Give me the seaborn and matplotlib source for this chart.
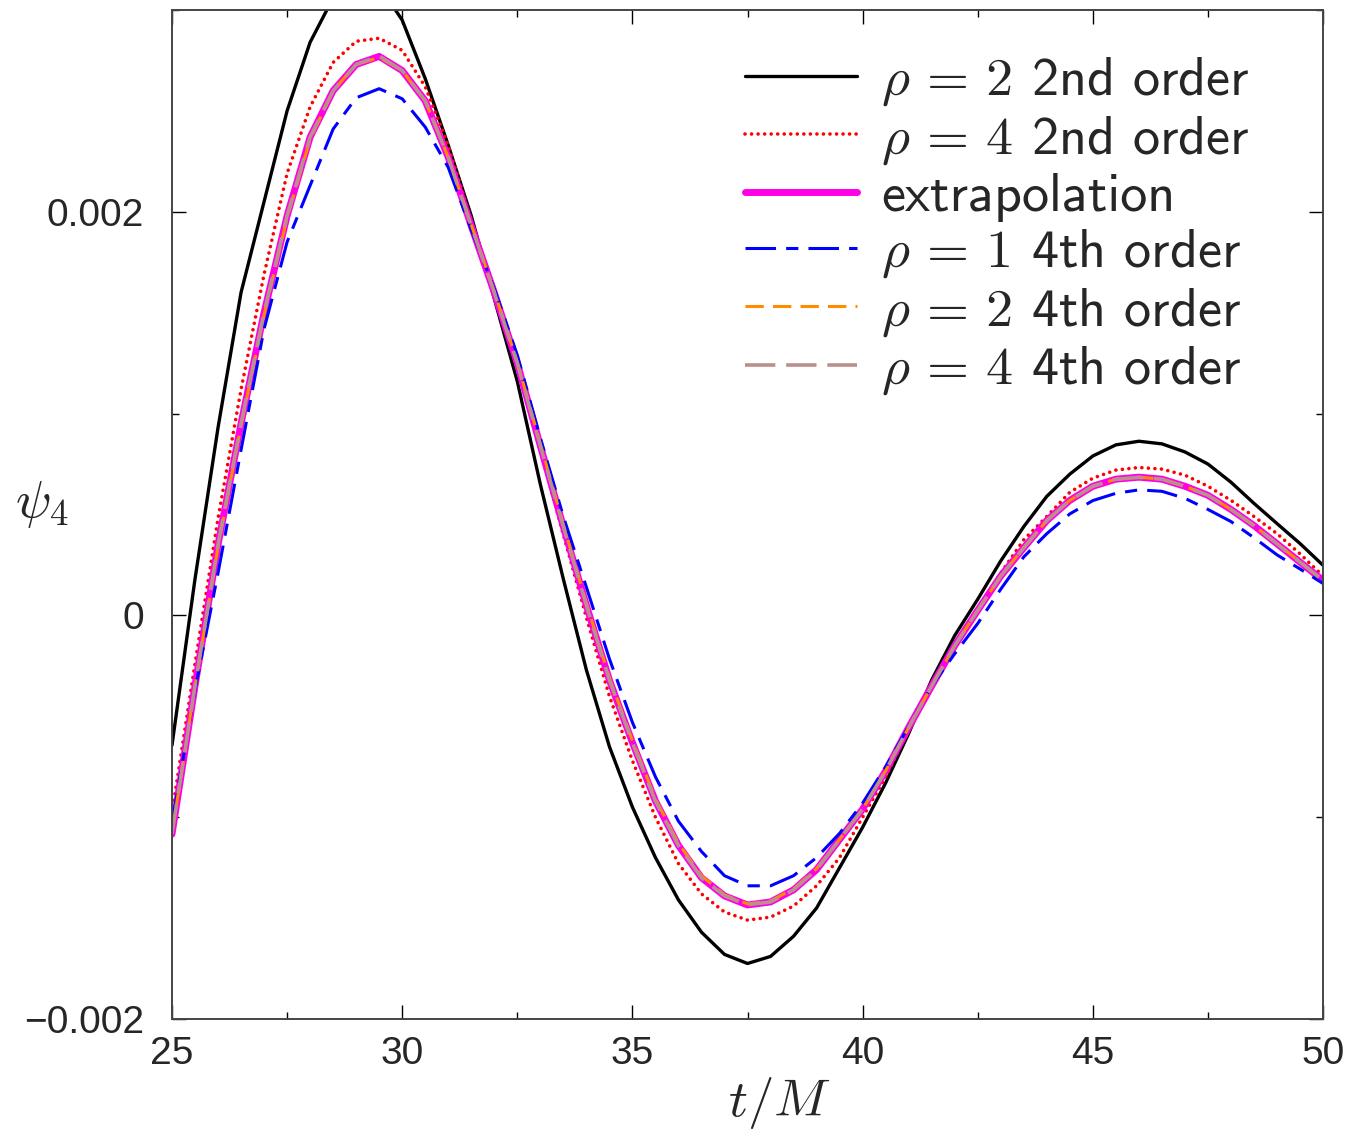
import numpy as np
import matplotlib
matplotlib.use("Agg")
import matplotlib.pyplot as plt
from matplotlib.ticker import MultipleLocator, FuncFormatter
import seaborn as sns

# Sample times t/M
t = np.linspace(25.0, 50.0, 51)

# psi_4 in units of 1e-3
psi_rho2_o2 = [-0.644, 0.18, 0.93, 1.60, 2.05, 2.50, 2.84, 3.06, 3.16, 3.12,
               2.95, 2.66, 2.33, 1.98, 1.57, 1.16, 0.65, 0.18, -0.27, -0.65,
               -0.95, -1.20, -1.41, -1.57, -1.68, -1.725, -1.69, -1.59, -1.45, -1.25,
               -1.05, -0.83, -0.585, -0.32, -0.10, 0.08, 0.27, 0.44, 0.59, 0.70,
               0.79, 0.845, 0.863, 0.85, 0.81, 0.75, 0.66, 0.555, 0.455, 0.356, 0.248]
psi_rho4_o2 = [-0.98, -0.24, 0.48, 1.12, 1.69, 2.19, 2.52, 2.74, 2.845, 2.86,
               2.80, 2.62, 2.33, 1.96, 1.60, 1.23, 0.82, 0.40, -0.01, -0.40,
               -0.72, -1.00, -1.23, -1.38, -1.47, -1.51, -1.495, -1.44, -1.34, -1.20,
               -1.00, -0.80, -0.57, -0.355, -0.15, 0.03, 0.21, 0.375, 0.49, 0.61,
               0.68, 0.72, 0.733, 0.725, 0.695, 0.64, 0.57, 0.49, 0.405, 0.305, 0.195]
psi_extrap = [-1.084, -0.35, 0.35, 0.95, 1.50, 1.98, 2.37, 2.60, 2.73, 2.77,
              2.70, 2.55, 2.27, 1.93, 1.60, 1.25, 0.84, 0.44, 0.05, -0.32,
              -0.63, -0.92, -1.14, -1.30, -1.39, -1.435, -1.42, -1.36, -1.26, -1.11,
              -0.96, -0.77, -0.555, -0.35, -0.15, 0.025, 0.195, 0.335, 0.47, 0.57,
              0.64, 0.675, 0.685, 0.675, 0.64, 0.595, 0.525, 0.445, 0.355, 0.264, 0.173]
psi_rho1_o4 = [-1.03, -0.37, 0.21, 0.82, 1.42, 1.85, 2.13, 2.41, 2.565, 2.61,
               2.56, 2.42, 2.22, 1.91, 1.62, 1.29, 0.88, 0.49, 0.14, -0.215,
               -0.53, -0.80, -1.02, -1.17, -1.29, -1.34, -1.34, -1.29, -1.20, -1.08,
               -0.93, -0.75, -0.55, -0.35, -0.19, -0.04, 0.13, 0.29, 0.405, 0.503,
               0.569, 0.605, 0.622, 0.615, 0.58, 0.525, 0.465, 0.385, 0.30, 0.23, 0.158]
psi_rho2_o4 = [-1.08, -0.35, 0.34, 0.94, 1.49, 1.97, 2.36, 2.60, 2.73, 2.765,
               2.70, 2.55, 2.27, 1.935, 1.605, 1.255, 0.85, 0.45, 0.06, -0.31,
               -0.62, -0.91, -1.13, -1.29, -1.385, -1.43, -1.415, -1.355, -1.255, -1.11,
               -0.96, -0.77, -0.555, -0.35, -0.15, 0.025, 0.195, 0.335, 0.47, 0.57,
               0.64, 0.675, 0.685, 0.675, 0.64, 0.595, 0.525, 0.445, 0.355, 0.265, 0.175]
psi_rho4_o4 = [-1.083, -0.35, 0.35, 0.95, 1.50, 1.98, 2.37, 2.60, 2.73, 2.772,
               2.70, 2.55, 2.27, 1.93, 1.60, 1.25, 0.84, 0.44, 0.05, -0.32,
               -0.63, -0.92, -1.14, -1.30, -1.39, -1.434, -1.42, -1.36, -1.26, -1.11,
               -0.96, -0.77, -0.555, -0.35, -0.15, 0.025, 0.195, 0.335, 0.47, 0.57,
               0.64, 0.675, 0.684, 0.675, 0.64, 0.595, 0.525, 0.445, 0.355, 0.264, 0.173]

labels = [r"$\rho\,=\,2$ 2nd order", r"$\rho\,=\,4$ 2nd order", "extrapolation",
          r"$\rho\,=\,1$ 4th order", r"$\rho\,=\,2$ 4th order", r"$\rho\,=\,4$ 4th order"]

sns.set_style("ticks")
plt.rcParams["font.family"] = ["Liberation Sans", "DejaVu Sans"]
plt.rcParams["mathtext.fontset"] = "cm"

fig = plt.figure(figsize=(13.52, 11.36), dpi=100)
ax = fig.add_axes([0.1272, 0.1030, 0.8514, 0.8882])

styles = [
    dict(color="black", lw=2.4, linestyle="-"),
    dict(color="#ff0000", lw=2.6, linestyle=(0, (0.01, 1.8)), dash_capstyle="round"),
    dict(color="#ff00e6", lw=5.0, linestyle="-", solid_capstyle="round"),
    dict(color="#0000ff", lw=2.2, linestyle=(0, (10, 3.3, 4, 3.3))),
    dict(color="#ff8c00", lw=2.2, linestyle=(0, (6, 3))),
    dict(color="#bc8f8f", lw=2.6, linestyle=(0, (8.4, 3))),
]
series = [psi_rho2_o2, psi_rho4_o2, psi_extrap, psi_rho1_o4, psi_rho2_o4, psi_rho4_o4]

for vals, lab, st in zip(series, labels, styles):
    sns.lineplot(x=t, y=np.asarray(vals) * 1e-3, ax=ax, label=lab,
                 solid_joinstyle="round", dash_joinstyle="round", **st)

ax.set_xlim(25, 50)
ax.set_ylim(-0.002, 0.003)
ax.xaxis.set_major_locator(MultipleLocator(5))
ax.xaxis.set_minor_locator(MultipleLocator(2.5))
ax.yaxis.set_major_locator(MultipleLocator(0.002))
ax.yaxis.set_minor_locator(MultipleLocator(0.001))


def yfmt(v, _):
    if abs(v) < 1e-12:
        return "0"
    return f"{v:g}".replace("-", "\u2212")


ax.yaxis.set_major_formatter(FuncFormatter(yfmt))
ax.tick_params(which="both", direction="in", top=True, right=True, width=1.0, color="black")
ax.tick_params(which="major", length=10, labelsize=28)
ax.tick_params(axis="x", which="major", pad=12)
ax.tick_params(axis="y", which="major", pad=20)
ax.tick_params(which="minor", length=5)
for s in ax.spines.values():
    s.set_linewidth(1.4)
    s.set_color("#444444")

ax.set_xlabel(r"$t/M$", fontsize=38)
ax.xaxis.set_label_coords(0.528, -0.083)
ax.xaxis.label.set_va("center")
ax.set_ylabel(r"$\psi_4$", fontsize=38, rotation=0)
ax.yaxis.set_label_coords(-0.113, 0.51)
ax.yaxis.label.set_ha("center")
ax.yaxis.label.set_va("center")

ax.legend(loc="upper left", bbox_to_anchor=(0.498, 0.955), frameon=False,
          prop={"family": "cmss10", "size": 39}, handlelength=2.07,
          handletextpad=0.44, labelspacing=0.11, borderpad=0, borderaxespad=0)

fig.savefig("out.png", dpi=100)
